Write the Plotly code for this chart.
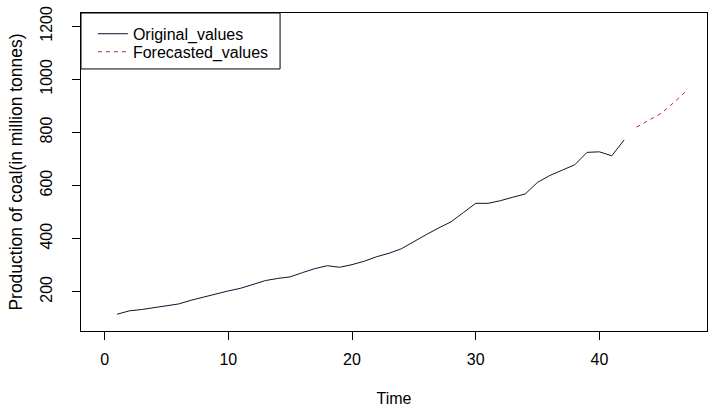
import plotly.graph_objects as go

# Data
time_original = list(range(1, 43))
original_values = [115, 128, 133, 140, 149, 154, 168, 180, 193, 203,
                   213, 228, 242, 250, 256, 272, 287, 298, 292, 302,
                   315, 332, 345, 362, 390, 415, 440, 463, 498, 533,
                   533, 543, 556, 568, 612, 638, 658, 678, 725, 727,
                   712, 772]
time_forecast = [43, 44, 45, 46, 47]
forecast_values = [820, 845, 872, 912, 955]

x_ticks = [0, 10, 20, 30, 40]
y_ticks = [200, 400, 600, 800, 1000, 1200]

FONT = "Liberation Sans, Arial, sans-serif"

fig = go.Figure()
fig.add_trace(go.Scatter(x=time_original, y=original_values, mode="lines",
                         name="Original_values", legend="legend",
                         line=dict(color="#12122e", width=1)))
fig.add_trace(go.Scatter(x=time_forecast, y=forecast_values, mode="lines",
                         name="Forecasted_values", legend="legend2",
                         line=dict(color="#c42a2a", width=1, dash="4px,4px")))

# legend box (R style)
fig.add_shape(type="rect", xref="paper", yref="paper",
              x0=0, x1=0.318, y0=0.824, y1=1,
              line=dict(color="black", width=1), fillcolor="white", layer="below")

leg_common = dict(xanchor="left", yanchor="top", bgcolor="rgba(0,0,0,0)",
                  borderwidth=0, font=dict(family=FONT, size=16), itemwidth=30)

fig.update_layout(
    width=710, height=407,
    margin=dict(l=81, r=3, t=13, b=76),
    paper_bgcolor="white", plot_bgcolor="white",
    font=dict(family=FONT, size=16, color="black"),
    showlegend=True,
    legend=dict(x=0.019, y=0.988, **leg_common),
    legend2=dict(x=0.019, y=0.9314, **leg_common),
    xaxis=dict(range=[-1.91, 48.7], tickvals=x_ticks, showgrid=False, zeroline=False,
               showline=True, mirror=True, linecolor="black", linewidth=1,
               ticks="outside", ticklen=8, tickcolor="black", ticklabelstandoff=6,
               title=dict(text="Time", standoff=26, font=dict(size=16))),
    yaxis=dict(range=[52, 1250], tickvals=y_ticks, showgrid=False, zeroline=False,
               showline=True, mirror=True, linecolor="black", linewidth=1,
               ticks="outside", ticklen=8, tickcolor="black", tickangle=-90,
               ticklabelstandoff=14,
               title=dict(text="Production of coal(in million tonnes)", standoff=10,
                          font=dict(size=17.5))),
)

fig.write_html("out.html")
